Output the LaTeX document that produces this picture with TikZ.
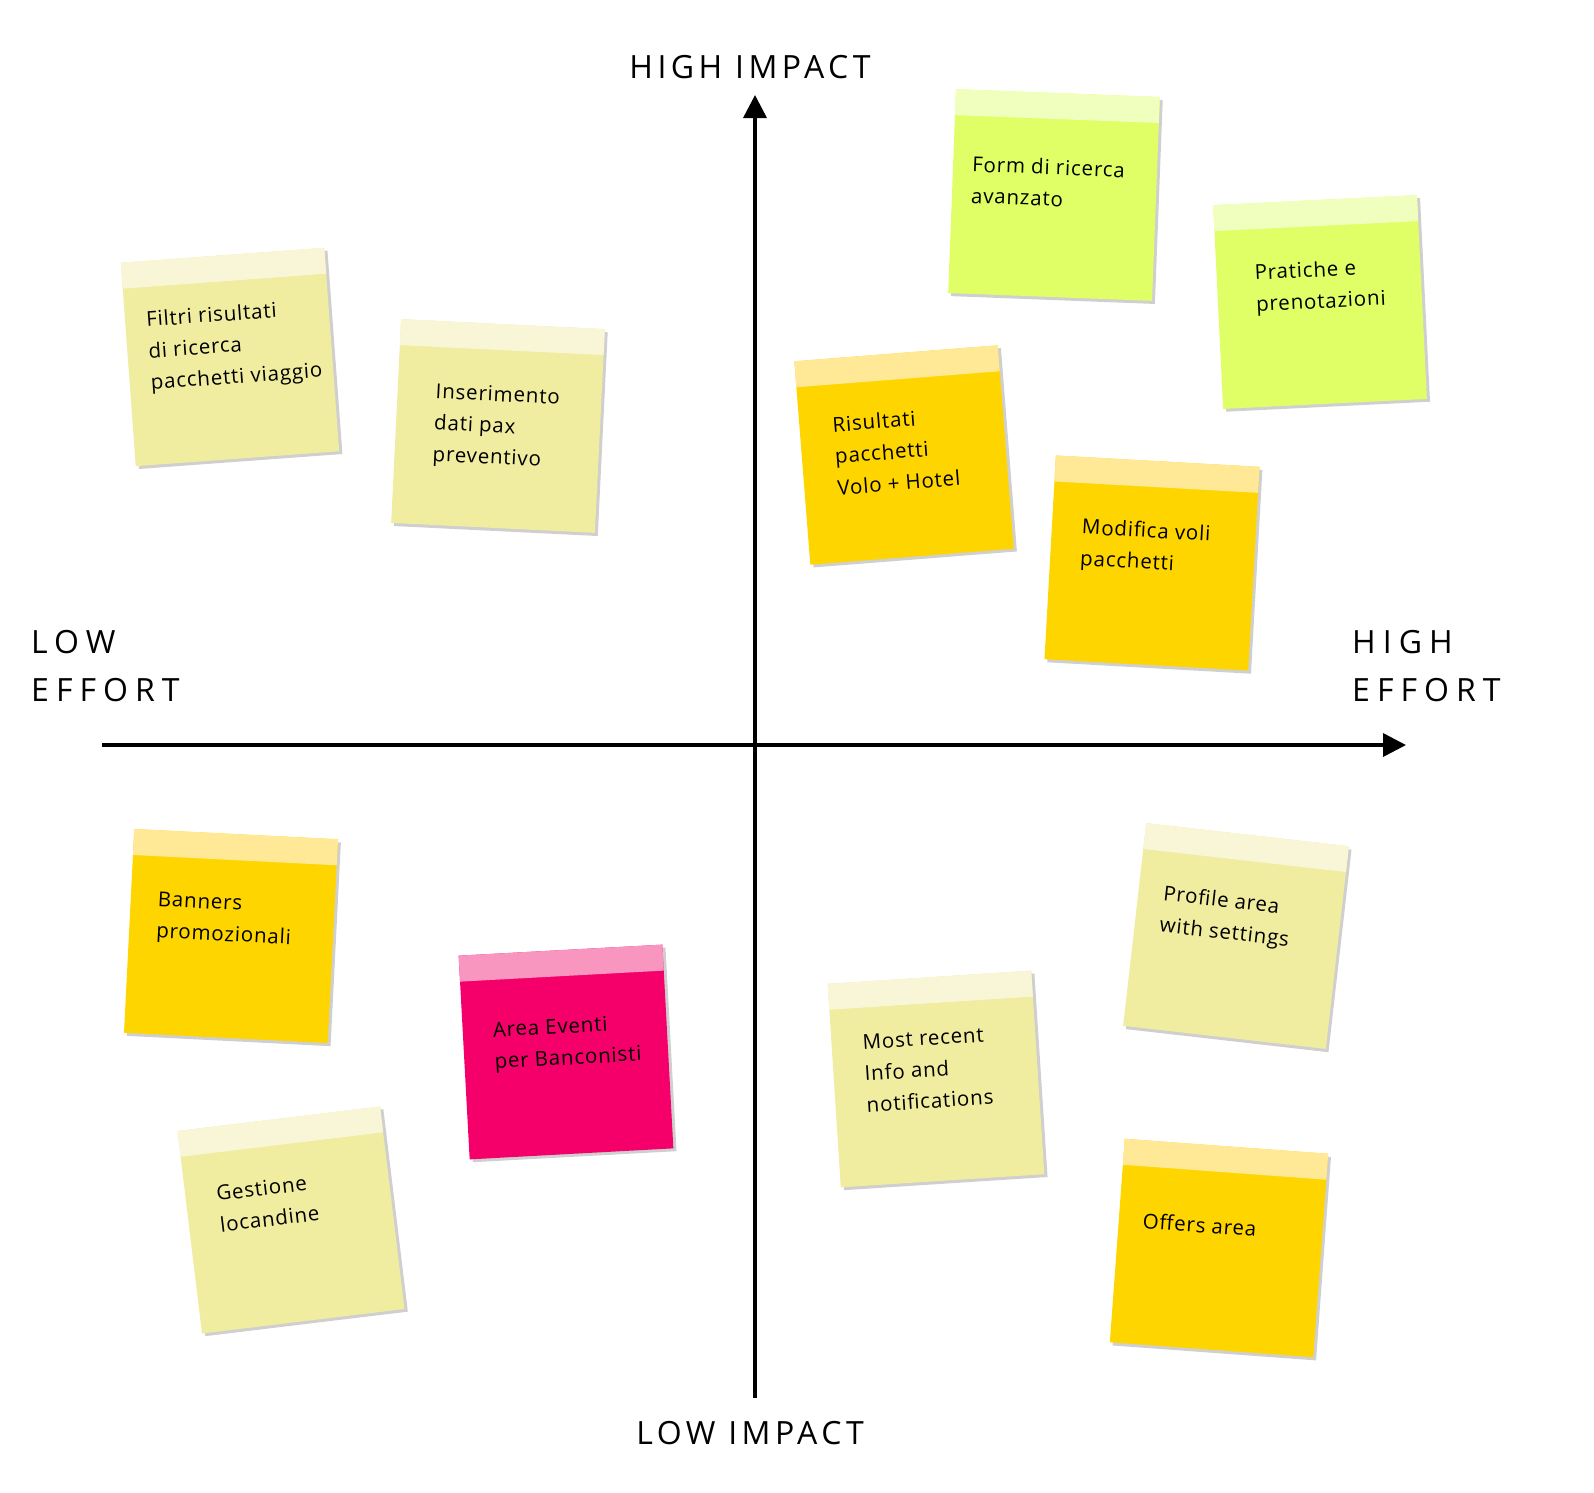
\documentclass[tikz,border=0pt]{standalone}
\usepackage{fontspec}
\setmainfont{Open Sans}
\newfontfamily\axisfont{Open Sans}[LetterSpace=14]
\newfontfamily\effortfont{Open Sans}[LetterSpace=22]
\newfontfamily\notefont{Open Sans}[LetterSpace=4]
\usepackage{tikz}
\usetikzlibrary{arrows.meta}
\definecolor{palebody}{HTML}{F0ECA0}
\definecolor{palehead}{HTML}{F8F6D6}
\definecolor{limebody}{HTML}{E0FF66}
\definecolor{limehead}{HTML}{F0FFBE}
\definecolor{goldbody}{HTML}{FFD500}
\definecolor{goldhead}{HTML}{FFE996}
\definecolor{pinkbody}{HTML}{F5006A}
\definecolor{pinkhead}{HTML}{F896C0}
\definecolor{notegray}{HTML}{CFCFCF}
\tikzset{
  note/.style={rectangle, minimum size=204pt, inner sep=0pt},
  notetext/.style={inner sep=0pt, align=left, font=\notefont\fontsize{20.5}{31.5}\selectfont},
  axislabel/.style={inner sep=0pt, align=left, font=\axisfont\fontsize{32}{48}\selectfont},
  effortlabel/.style={axislabel, font=\effortfont\fontsize{32}{48}\selectfont}
}
% #1 name, #2 x, #3 y, #4 angle, #5 colour, #6 text inset, #7 text drop, #8 text
\newcommand{\postit}[8]{%
  \begin{scope}[shift={(#2,-#3)}, rotate=#4, transform shape]
    \fill[notegray] (-99,-105) rectangle (105,99);
    \node[note, fill=#5body] (#1) at (0,0) {};
    \fill[#5head] (-102,102) rectangle (102,76);
    \node[notetext, anchor=north west] (#1-text) at (-102+#6,102-#7) {#8};
  \end{scope}}

\begin{document}
\begin{tikzpicture}[x=1pt, y=1pt]
    \useasboundingbox (0,0) rectangle (1594,-1492);

    \coordinate (xstart) at (102,-745);
    \coordinate (xend) at (1406,-745);
    \coordinate (ystart) at (755,-1398);
    \coordinate (yend) at (755,-95);

    \draw [-{Triangle[length=23pt,width=23pt]}][black,line width=3.5pt] (xstart) -- (xend);
    \draw [-{Triangle[length=23pt,width=23pt]}][black,line width=3.5pt] (ystart) -- (yend);

    \node[axislabel, anchor=base] (highimpact) at (750,-78) {HIGH IMPACT};
    \node[axislabel, anchor=base] (lowimpact) at (750,-1444) {LOW IMPACT};
    \node[effortlabel, anchor=north west] (loweffort) at (31,-630) {LOW\\EFFORT};
    \node[effortlabel, anchor=north west] (higheffort) at (1352,-630) {HIGH\\EFFORT};

    \postit{filtri}{230}{357}{4.2}{pale}{21}{50}{Filtri risultati\\di ricerca\\pacchetti viaggio}
    \postit{inserimento}{498}{426}{-2.8}{pale}{38}{62}{Inserimento\\dati pax\\preventivo}
    \postit{formricerca}{1054}{195}{-2.2}{lime}{19}{66}{Form di ricerca\\avanzato}
    \postit{pratiche}{1320}{302}{2.8}{lime}{38}{61}{Pratiche e\\prenotazioni}
    \postit{risultati}{904}{455}{4.5}{gold}{33}{58}{Risultati\\pacchetti\\Volo + Hotel}
    \postit{modifica}{1152}{563}{-3.2}{gold}{30}{61}{Modifica voli\\pacchetti}
    \postit{banners}{231}{936}{-2.9}{gold}{27}{61}{Banners\\promozionali}
    \postit{eventi}{566}{1052}{3.1}{pink}{30}{68}{Area Eventi\\per Banconisti}
    \postit{gestione}{291}{1220}{6.9}{pale}{31}{59}{Gestione\\locandine}
    \postit{mostrecent}{936}{1079}{3.7}{pale}{31}{53}{Most recent\\Info and\\notifications}
    \postit{profile}{1236}{936}{-6.5}{pale}{25}{59}{Profile area\\with settings}
    \postit{offers}{1219}{1248}{-4.2}{gold}{24}{72}{Offers area}
\end{tikzpicture}
\end{document}
